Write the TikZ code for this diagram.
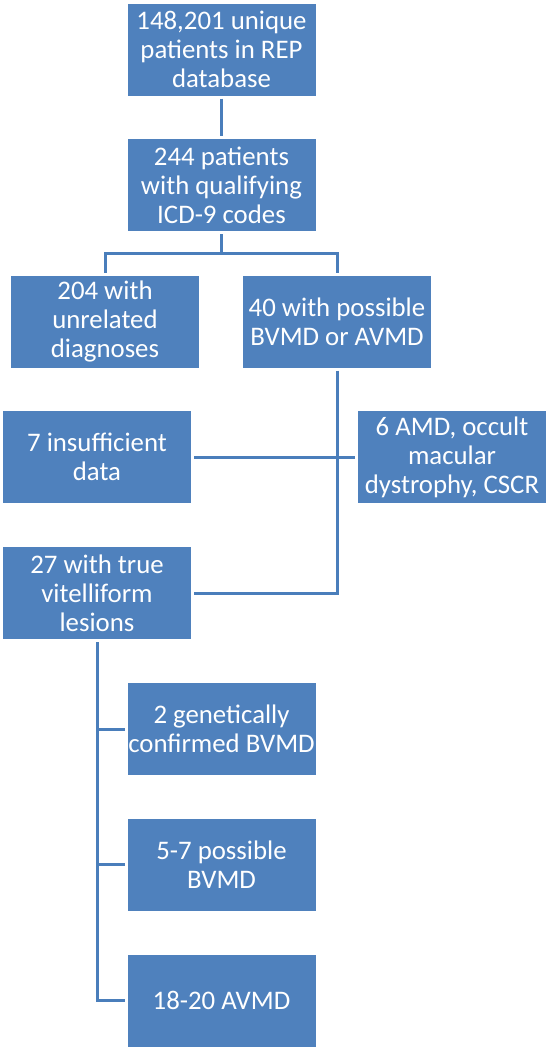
\documentclass[tikz,border=0pt]{standalone}
\usepackage{fontspec}
\setmainfont{Carlito}
\definecolor{boxblue}{RGB}{79,129,189}
\definecolor{lineblue}{RGB}{74,126,187}
\tikzset{every picture/.style={line width=3pt}}
\tikzset{box/.style={fill=boxblue, draw=none, text=white, align=center, minimum width=188pt, minimum height=92pt, inner sep=0pt, outer sep=3pt, font=\fontsize{26.8}{29}\selectfont},
  link/.style={draw=lineblue, line width=3pt}}

\begin{document}
\begin{tikzpicture}[x=1pt,y=1pt,yscale=-1,xscale=1]
\useasboundingbox (0,0) rectangle (550,1050);

% Text Node
\node [box] (database) at (221.5,49.5) {148,201 unique\\patients in REP\\database};
% Text Node
\node [box] (icd) at (221.5,185) {244 patients\\with qualifying\\ICD-9 codes};
% Text Node
\node [box] (unrelated) at (105,321.5) {204 with\\unrelated\\diagnoses};
% Text Node
\node [box] (possible) at (337,321.5) {40 with possible\\BVMD or AVMD};
% Text Node
\node [box] (insufficient) at (97,457) {7 insufficient\\data};
% Text Node
\node [box] (amd) at (452,457) {6 AMD, occult\\macular\\dystrophy, CSCR};
% Text Node
\node [box] (vitelliform) at (97,593) {27 with true\\vitelliform\\lesions};
% Text Node
\node [box] (genetic) at (221.5,729) {2 genetically\\confirmed BVMD};
% Text Node
\node [box] (possbvmd) at (221.5,864.5) {5-7 possible\\BVMD};
% Text Node
\node [box] (avmd) at (221.5,1000.5) {18-20 AVMD};

% Connection
\draw [link] (database.south) -- (icd.north);
% Connection
\coordinate (split) at (221.5,253);
\draw [link] (icd.south) -- (split) -| (unrelated.north);
\draw [link] (split) -| (possible.north);
% Connection
\draw [link] (insufficient.east) -- (amd.west);
% Connection
\draw [link] (possible.south) -- (possible.south |- vitelliform.east) -- (vitelliform.east);
% Connection
\draw [link] (vitelliform.south) -- (vitelliform.south |- avmd.west) -- (avmd.west);
\draw [link] (vitelliform.south |- genetic.west) -- (genetic.west);
\draw [link] (vitelliform.south |- possbvmd.west) -- (possbvmd.west);

\end{tikzpicture}
\end{document}
